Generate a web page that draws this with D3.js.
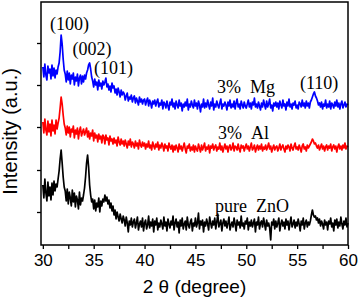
<!DOCTYPE html>
<html>
<head>
<meta charset="utf-8">
<script src="https://cdn.jsdelivr.net/npm/d3@7"></script>
<style>
  body { margin: 0; background: #fff; }
  .tick text { font-family: "Liberation Sans", Arial, sans-serif; font-size: 17px; fill: #000; }
  .axisText { font-family: "Liberation Sans", Arial, sans-serif; fill: #000; }
  .note { font-family: "Liberation Serif", "Times New Roman", serif; font-size: 18px; fill: #000; }
</style>
</head>
<body>
<div id="plot"></div>
<script>
// 2θ sampled every 0.1 degree from 30 to 60 (301 points), intensity in a.u.
// one row = one degree
var thetaStart = 30;
var thetaStep = 0.1;

var pureZnO = [
  60, 47, 66, 52, 44, 63, 49, 58, 45, 62,
  50, 64, 54, 61, 58, 66, 74, 86, 95, 82,
  68, 58, 54, 44, 56, 41, 53, 47, 39, 55,
  43, 52, 38, 49, 45, 36, 53, 40, 47, 44,
  50, 57, 68, 82, 90, 78, 60, 50, 43, 46,
  36, 45, 34, 42, 38, 47, 33, 44, 39, 46,
  43, 50, 44, 48, 41, 45, 37, 42, 34, 39,
  30, 35, 26, 33, 28, 24, 31, 26, 22, 29,
  25, 19, 28, 22, 13, 24, 20, 27, 18, 23,
  26, 17, 22, 28, 15, 21, 24, 18, 27, 14,
  22, 25, 16, 20, 29, 17, 23, 19, 26, 13,
  24, 20, 27, 15, 22, 18, 25, 21, 16, 28,
  19, 23, 14, 26, 21, 17, 24, 20, 29, 15,
  22, 26, 18, 23, 12, 25, 19, 27, 16, 21,
  24, 15, 28, 20, 17, 23, 26, 14, 22, 19,
  27, 18, 22, 32, 16, 24, 20, 25, 13, 23,
  19, 26, 21, 15, 28, 22, 17, 24, 20, 27,
  16, 23, 31, 18, 21, 25, 14, 22, 26, 19,
  24, 17, 22, 28, 15, 20, 23, 18, 27, 21,
  14, 25, 20, 23, 17, 29, 19, 22, 16, 24,
  21, 27, 15, 23, 19, 25, 18, 22, 26, 13,
  23, 20, 28, 16, 22, 24, 18, 27, 21, 15,
  25, 19, 22, 17, 5, 23, 20, 26, 16, 24,
  18, 22, 27, 14, 21, 25, 19, 23, 16, 26,
  20, 24, 15, 22, 28, 18, 21, 25, 17, 23,
  19, 26, 21, 14, 24, 20, 27, 16, 22, 25,
  18, 23, 20, 24, 30, 35, 30, 28, 29, 25,
  27, 22, 26, 19, 24, 21, 16, 25, 20, 23,
  15, 24, 21, 27, 18, 22, 14, 25, 20, 26,
  17, 23, 19, 28, 21, 16, 24, 20, 27, 18,
  22
];

var al3 = [
  123, 112, 126, 115, 110, 124, 113, 121, 109, 125,
  114, 120, 111, 125, 116, 122, 127, 137, 148, 141,
  130, 121, 117, 110, 119, 112, 118, 108, 116, 113,
  119, 107, 115, 111, 117, 106, 114, 118, 109, 113,
  116, 110, 113, 117, 108, 114, 106, 112, 109, 115,
  104, 112, 107, 110, 103, 111, 106, 109, 102, 110,
  108, 101, 110, 105, 107, 100, 109, 104, 106, 101,
  107, 102, 105, 99, 108, 103, 100, 106, 101, 104,
  99, 105, 101, 97, 104, 100, 106, 98, 103, 101,
  97, 104, 99, 102, 96, 105, 100, 98, 103, 99,
  102, 96, 101, 98, 104, 97, 100, 95, 103, 99,
  96, 101, 98, 103, 95, 100, 97, 102, 99, 94,
  101, 97, 99, 94, 102, 98, 96, 100, 93, 99,
  95, 100, 97, 93, 101, 96, 99, 94, 98, 102,
  96, 92, 99, 97, 101, 94, 98, 95, 100, 93,
  99, 96, 94, 101, 97, 93, 100, 95, 98, 102,
  94, 98, 96, 100, 92, 99, 97, 101, 95, 98,
  100, 94, 98, 96, 102, 95, 99, 93, 97, 101,
  96, 99, 93, 98, 100, 95, 97, 102, 94, 99,
  98, 95, 101, 96, 93, 100, 97, 99, 94, 98,
  101, 96, 99, 94, 98, 102, 95, 97, 100, 93,
  97, 100, 95, 99, 96, 101, 94, 98, 96, 100,
  95, 98, 102, 96, 99, 93, 97, 100, 95, 98,
  99, 94, 97, 101, 95, 98, 100, 96, 93, 99,
  96, 100, 98, 94, 101, 97, 95, 99, 102, 96,
  98, 95, 100, 97, 93, 99, 101, 96, 98, 94,
  100, 97, 99, 101, 103, 106, 104, 101, 102, 99,
  97, 100, 95, 98, 101, 96, 99, 94, 98, 100,
  95, 99, 97, 101, 94, 98, 100, 96, 99, 93,
  98, 101, 96, 99, 95, 100, 97, 102, 96, 99,
  98
];

var mg3 = [
  178, 168, 181, 170, 165, 179, 172, 176, 166, 180,
  169, 177, 167, 175, 171, 178, 182, 193, 210, 201,
  186, 175, 171, 163, 174, 165, 172, 161, 170, 166,
  172, 160, 168, 164, 171, 159, 167, 170, 161, 169,
  163, 170, 166, 172, 175, 180, 182, 176, 168, 164,
  158, 166, 160, 163, 155, 165, 159, 162, 156, 164,
  160, 163, 167, 158, 161, 155, 159, 153, 162, 157,
  159, 152, 156, 150, 157, 153, 148, 155, 150, 153,
  151, 145, 149, 152, 144, 148, 146, 150, 143, 147,
  149, 142, 147, 144, 140, 148, 143, 146, 141, 145,
  146, 140, 144, 147, 139, 145, 142, 137, 144, 141,
  145, 139, 143, 146, 138, 142, 140, 145, 136, 143,
  141, 137, 144, 139, 135, 143, 140, 146, 138, 142,
  136, 144, 140, 137, 145, 139, 142, 134, 141, 138,
  143, 139, 146, 135, 141, 138, 144, 140, 137, 145,
  139, 142, 136, 144, 140, 133, 141, 138, 146, 137,
  142, 138, 145, 140, 136, 143, 139, 147, 135, 141,
  138, 144, 140, 137, 142, 146, 136, 141, 139, 143,
  140, 135, 143, 139, 145, 137, 141, 138, 144, 136,
  142, 146, 138, 141, 136, 144, 140, 137, 143, 139,
  137, 141, 145, 138, 142, 136, 143, 140, 147, 138,
  141, 137, 143, 139, 135, 142, 138, 145, 140, 136,
  144, 138, 141, 146, 137, 140, 134, 142, 139, 143,
  138, 142, 136, 144, 140, 137, 145, 139, 141, 135,
  143, 139, 146, 138, 141, 136, 142, 140, 144, 137,
  140, 136, 143, 141, 138, 145, 139, 142, 137, 144,
  139, 142, 137, 143, 145, 148, 151, 153, 149, 147,
  144, 140, 142, 138, 143, 136, 141, 139, 145, 137,
  141, 138, 144, 136, 142, 140, 137, 143, 139, 145,
  138, 142, 136, 141, 144, 137, 140, 143, 138, 141,
  140
];

var xTicks = [30, 35, 40, 45, 50, 55, 60];
var xMinorTicks = [32.5, 37.5, 42.5, 47.5, 52.5, 57.5];
var yTicks = [33, 75, 118, 160, 202];

var peakLabels = ["(100)", "(002)", "(101)", "(110)"];
var peakTheta = [32.63, 34.84, 36.95, 57.16];
var peakLevel = [215, 190, 171, 156];

var sampleLabels = ["3%\u00a0\u00a0Mg", "3%\u00a0\u00a0Al", "pure\u00a0\u00a0ZnO"];
var sampleTheta = [47.13, 47.23, 46.93];
var sampleLevel = [152, 106, 33];

var svgWidth = 358;
var svgHeight = 300;
var margin = { top: 2, right: 10, bottom: 55, left: 41 };
var width = svgWidth - margin.left - margin.right;
var height = svgHeight - margin.top - margin.bottom;

var svg = d3.select("#plot")
  .append("svg")
  .attr("width", svgWidth)
  .attr("height", svgHeight);

var chartGroup = svg.append("g")
  .attr("transform", `translate(${margin.left}, ${margin.top})`);

var xScale = d3.scaleLinear().domain([29.82, 60]).range([0, width]);
var yScale = d3.scaleLinear().domain([0, 243]).range([height, 0]);

var line = d3.line()
  .x((d, i) => xScale(thetaStart + i * thetaStep))
  .y(d => yScale(d));

var series = [
  { values: pureZnO, color: "#000000" },
  { values: al3, color: "#ff0000" },
  { values: mg3, color: "#0000ff" }
];

series.forEach(function (s) {
  chartGroup.append("path")
    .datum(s.values)
    .attr("d", line)
    .attr("fill", "none")
    .attr("stroke", s.color)
    .attr("stroke-width", 1.7)
    .attr("stroke-linejoin", "round");
});

// frame
chartGroup.append("rect")
  .attr("x", 0)
  .attr("y", 0)
  .attr("width", width)
  .attr("height", height)
  .attr("fill", "none")
  .attr("stroke", "#000")
  .attr("stroke-width", 1.5);

var bottomAxis = d3.axisBottom(xScale)
  .tickValues(xTicks)
  .tickSizeInner(4)
  .tickSizeOuter(0)
  .tickPadding(5)
  .tickFormat(d3.format("d"));

var minorAxis = d3.axisBottom(xScale)
  .tickValues(xMinorTicks)
  .tickSizeInner(4)
  .tickSizeOuter(0)
  .tickFormat("");

var leftAxis = d3.axisLeft(yScale)
  .tickValues(yTicks)
  .tickSizeInner(4)
  .tickSizeOuter(0)
  .tickFormat("");

[bottomAxis, minorAxis].forEach(function (ax) {
  var g = chartGroup.append("g")
    .attr("transform", `translate(0, ${height})`)
    .call(ax);
  g.select(".domain").remove();
  g.selectAll(".tick line").attr("stroke", "#000").attr("stroke-width", 1.3);
});

var yAxisG = chartGroup.append("g").call(leftAxis);
yAxisG.select(".domain").remove();
yAxisG.selectAll(".tick line").attr("stroke", "#000").attr("stroke-width", 1.3);

// peak indices
peakLabels.forEach(function (t, i) {
  chartGroup.append("text")
    .attr("class", "note")
    .attr("x", xScale(peakTheta[i]))
    .attr("y", yScale(peakLevel[i]))
    .attr("text-anchor", "middle")
    .text(t);
});

// sample names
sampleLabels.forEach(function (t, i) {
  chartGroup.append("text")
    .attr("class", "note")
    .attr("x", xScale(sampleTheta[i]))
    .attr("y", yScale(sampleLevel[i]))
    .text(t);
});

// axis titles
chartGroup.append("text")
  .attr("class", "axisText")
  .attr("transform", `translate(${width / 2}, ${height + 48})`)
  .attr("text-anchor", "middle")
  .style("font-size", "19px")
  .text("2 \u03b8 (degree)");

chartGroup.append("text")
  .attr("class", "axisText")
  .attr("transform", `translate(${17 - margin.left}, ${129.5}) rotate(-90)`)
  .attr("text-anchor", "middle")
  .style("font-size", "20px")
  .text("Intensity (a.u.)");
</script>
</body>
</html>
